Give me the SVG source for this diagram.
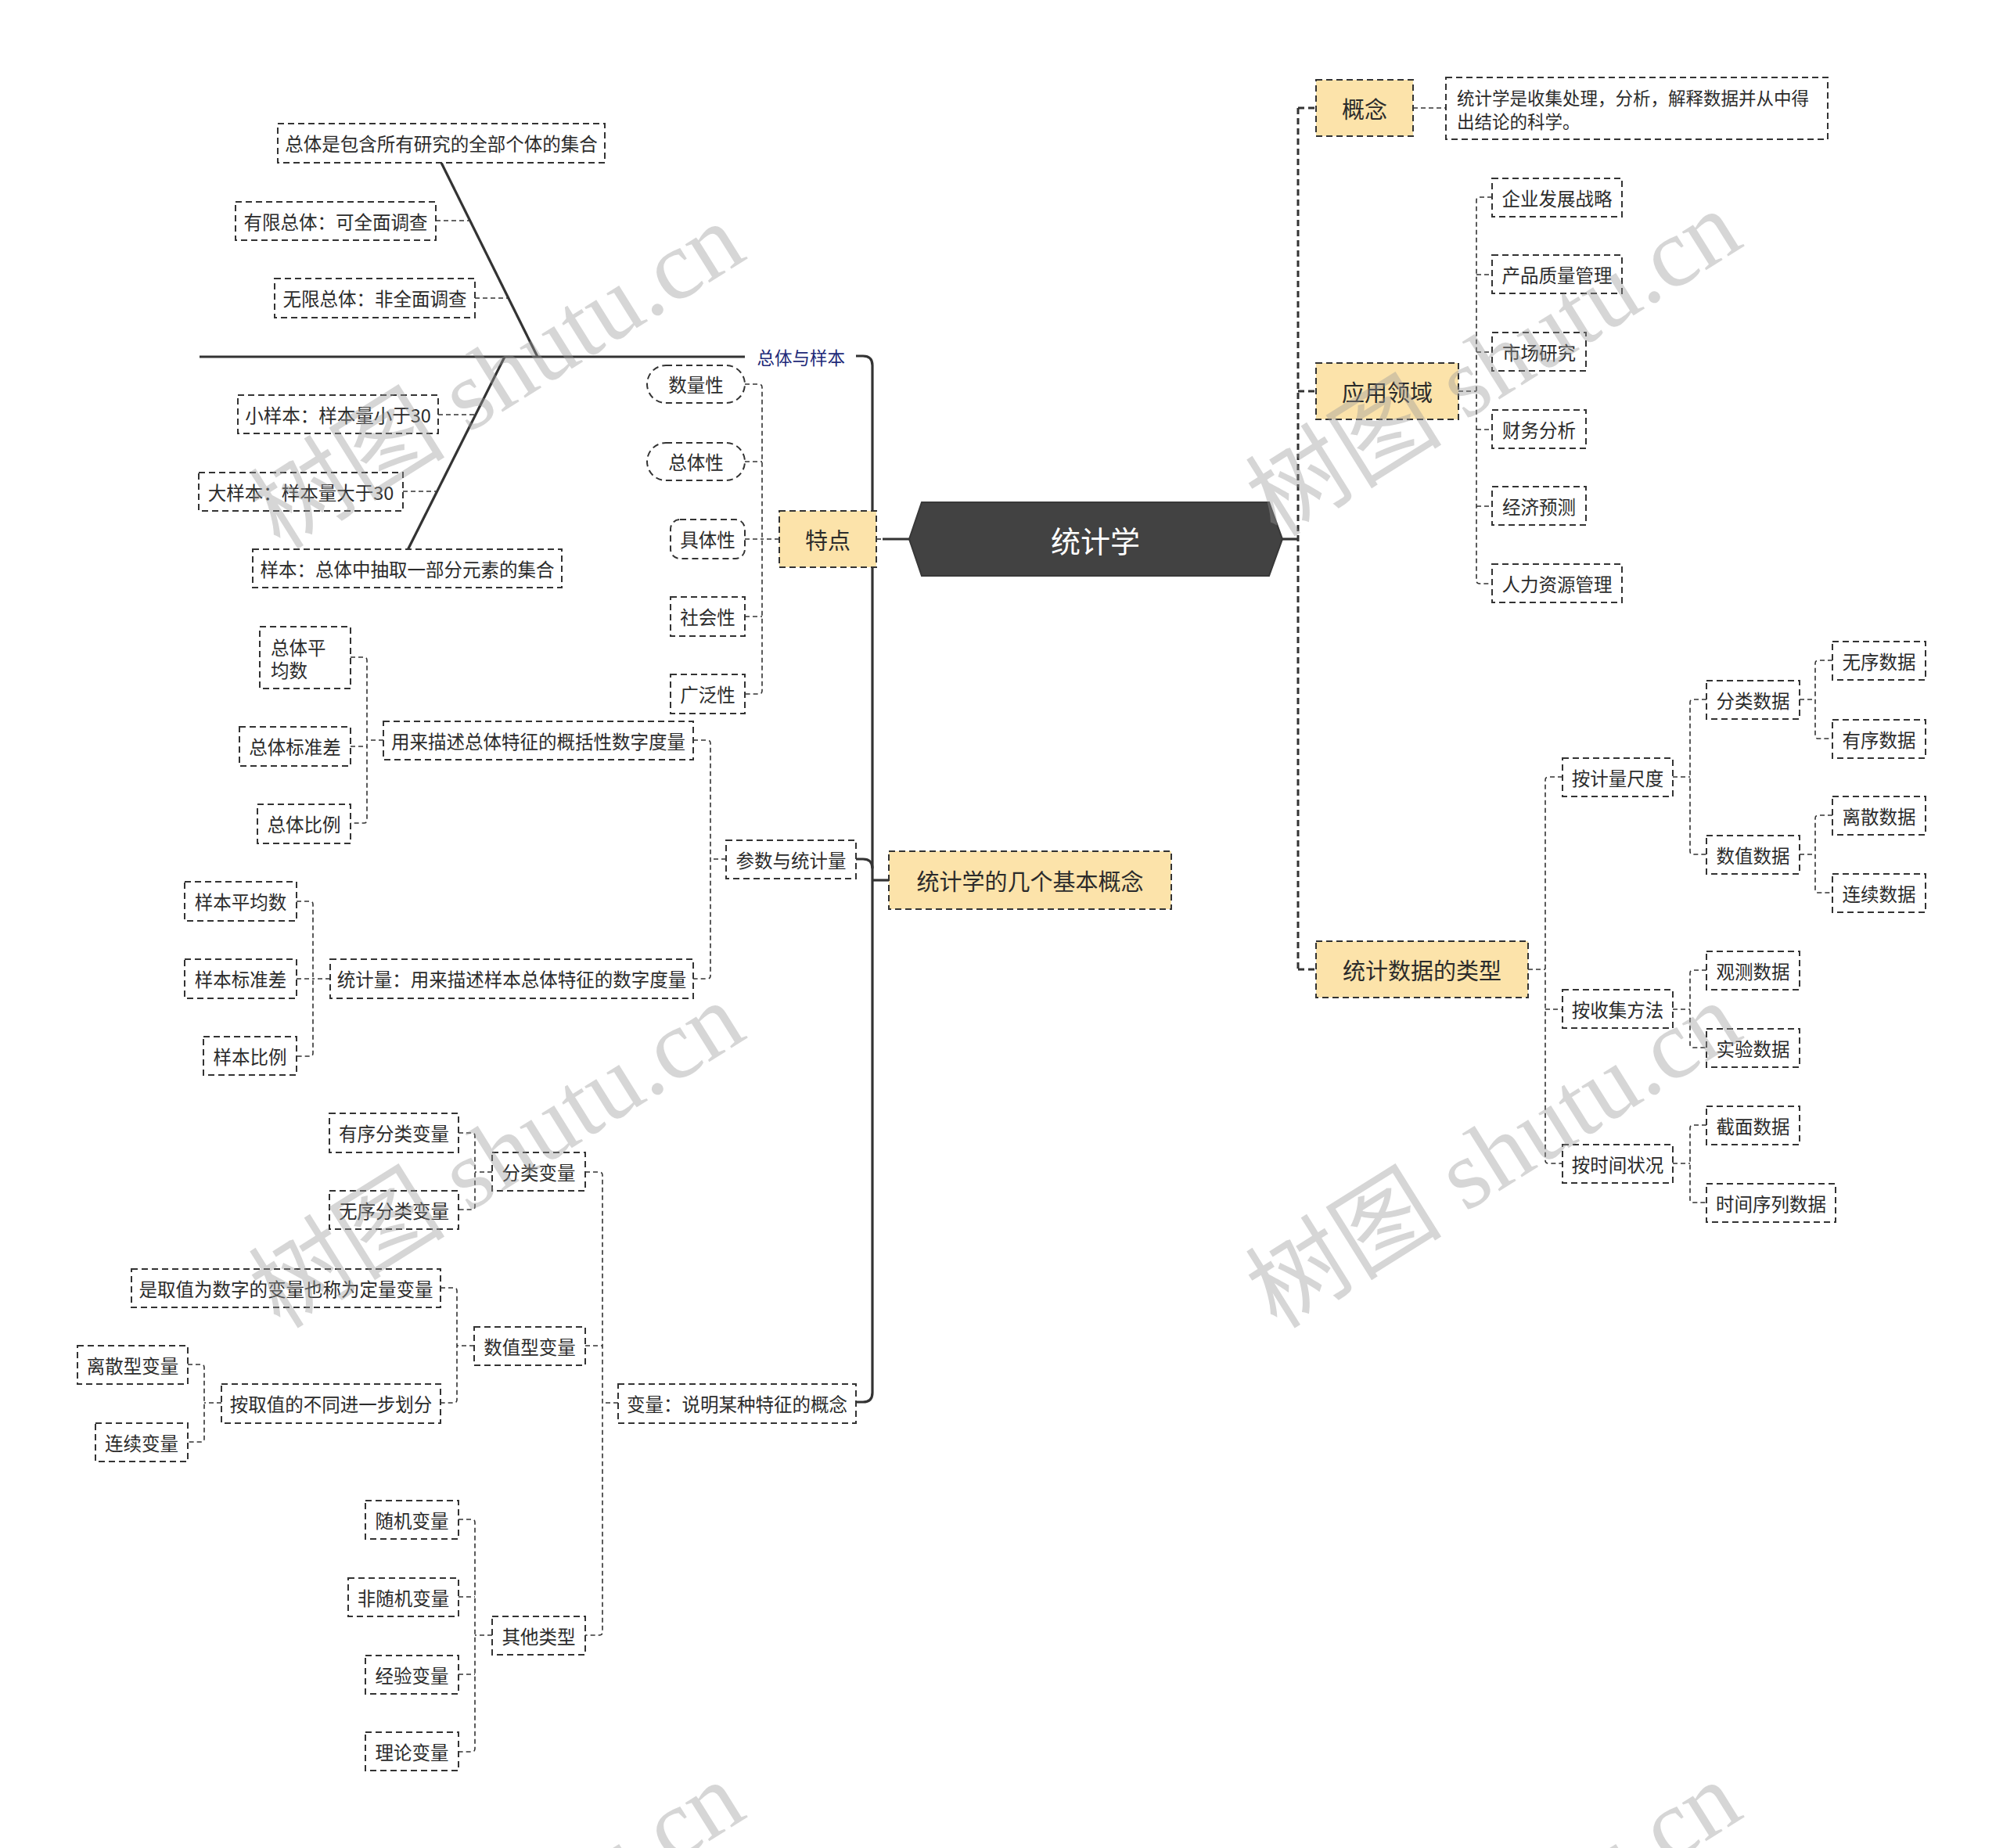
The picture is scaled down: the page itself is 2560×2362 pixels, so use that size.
<svg xmlns="http://www.w3.org/2000/svg" width="2560" height="2362" viewBox="0 0 2560 2362">
<style>
.bg{fill:#fff}
.box{fill:#fff;stroke:#333;stroke-width:2;stroke-dasharray:8 5}
.yl{fill:#FCE3AA;stroke:#333;stroke-width:2;stroke-dasharray:8 5}
.t{font-family:"Noto Sans CJK SC","Liberation Sans",sans-serif;font-size:23.5px;fill:#2b2b2b;text-anchor:middle;dominant-baseline:central}
.ts{text-anchor:start}
.td{font-size:22.5px}
.t1{font-size:29px}
.tr{font-size:38px;fill:#fff}
.tb{font-size:22.5px;fill:#1E2A78;text-anchor:end}
.c{fill:none;stroke:#333;stroke-width:1.6;stroke-dasharray:6 4}
.m{fill:none;stroke:#333;stroke-width:3;stroke-dasharray:8 5}
.s{fill:none;stroke:#333;stroke-width:3.2}
.wm{font-family:"Liberation Serif","Noto Sans CJK SC",serif;font-size:126px;fill:#9a9a9a;opacity:0.4}
</style>
<rect class="bg" x="0" y="0" width="2560" height="2362"/>

<g id="connectors">
  <path class="s" d="M1639,689 H1659"/>
  <path class="m" d="M1659,138 V1239"/>
  <path class="m" d="M1659,138 H1682 M1659,500 H1682 M1659,1239 H1682"/>
  <path class="c" d="M1806,138 H1848"/>
  <path class="c" d="M1864,500 H1887"/>
  <path class="c" d="M1907,252 H1891 Q1887,252 1887,256 V742 Q1887,746 1891,746 H1907 M1887,351 H1907 M1887,450 H1907 M1887,549 H1907 M1887,647 H1907"/>
  <path class="c" d="M1953,1239 H1975"/>
  <path class="c" d="M1997,993 H1979 Q1975,993 1975,997 V1483 Q1975,1487 1979,1487 H1997 M1975,1290 H1997"/>
  <path class="c" d="M2138,993 H2160 M2181,894 H2164 Q2160,894 2160,898 V1088 Q2160,1092 2164,1092 H2181"/>
  <path class="c" d="M2300,894 H2320 M2342,844 H2324 Q2320,844 2320,848 V940 Q2320,944 2324,944 H2342"/>
  <path class="c" d="M2300,1092 H2320 M2342,1042 H2324 Q2320,1042 2320,1046 V1137 Q2320,1141 2324,1141 H2342"/>
  <path class="c" d="M2138,1290 H2160 M2181,1240 H2164 Q2160,1240 2160,1244 V1335 Q2160,1339 2164,1339 H2181"/>
  <path class="c" d="M2138,1487 H2160 M2181,1438 H2164 Q2160,1438 2160,1442 V1533 Q2160,1537 2164,1537 H2181"/>

  <path class="s" d="M1094,455 H1103 Q1115,455 1115,467 V1780 Q1115,1792 1103,1792 H1093"/>
  <path class="s" d="M1094,1098 H1103 Q1115,1098 1115,1110"/>
  <path class="s" d="M1115,1125 H1136"/>
  <path class="s" d="M1128,689 H1162"/>
  <path class="c" d="M1120,689 H1126"/>

  <path class="c" d="M996,689 H974"/>
  <path class="c" d="M952,491 H970 Q974,491 974,495 V883 Q974,887 970,887 H952 M952,590 H974 M952,689 H974 M952,788 H974"/>

  <path class="s" d="M255,456 H952"/>
  <path class="s" d="M564,208 L687,456"/>
  <path class="s" d="M645,456 L521,703"/>
  <path class="c" d="M557,282 H600 M607,381 H650 M560,530 H607 M515,628 H557"/>

  <path class="c" d="M928,1098 H908"/>
  <path class="c" d="M886,946 H904 Q908,946 908,950 V1247 Q908,1251 904,1251 H886"/>
  <path class="c" d="M490,946 H469"/>
  <path class="c" d="M448,840 H465 Q469,840 469,844 V1048 Q469,1052 465,1052 H448 M448,954 H469"/>
  <path class="c" d="M422,1251 H400"/>
  <path class="c" d="M379,1152 H396 Q400,1152 400,1156 V1346 Q400,1350 396,1350 H379 M379,1251 H400"/>

  <path class="c" d="M790,1793 H770"/>
  <path class="c" d="M748,1498 H766 Q770,1498 770,1502 V2086 Q770,2090 766,2090 H748 M748,1720 H770"/>
  <path class="c" d="M629,1498 H607 M586,1448 H603 Q607,1448 607,1452 V1542 Q607,1546 603,1546 H586"/>
  <path class="c" d="M606,1720 H584 M563,1646 H580 Q584,1646 584,1650 V1789 Q584,1793 580,1793 H563"/>
  <path class="c" d="M283,1793 H261 M240,1744 H257 Q261,1744 261,1748 V1839 Q261,1843 257,1843 H240"/>
  <path class="c" d="M629,2090 H607 M586,1942 H603 Q607,1942 607,1946 V2235 Q607,2239 603,2239 H586 M586,2041 H607 M586,2140 H607"/>
</g>

<g id="root">
  <polygon points="1162,689 1178,642 1622,642 1639,689 1622,736 1178,736" fill="#424242" stroke="#383838" stroke-width="2"/>
  <text class="t tr" x="1400" y="689">统计学</text>
</g>

<g id="n-gainian"><rect class="yl" x="1682" y="102" width="124" height="72"/><text class="t t1" x="1744" y="138">概念</text></g>
<g id="n-desc"><rect class="box" x="1848" y="99" width="488" height="79"/>
  <text class="t ts td" x="1862" y="124">统计学是收集处理，分析，解释数据并从中得</text>
  <text class="t ts td" x="1862" y="154">出结论的科学。</text></g>
<g id="n-yingyong"><rect class="yl" x="1682" y="464" width="182" height="72"/><text class="t t1" x="1773" y="500">应用领域</text></g>
<g id="n-qiye"><rect class="box" x="1907" y="228" width="166" height="49"/><text class="t" x="1990" y="252.5">企业发展战略</text></g>
<g id="n-chanpin"><rect class="box" x="1907" y="326" width="166" height="49"/><text class="t" x="1990" y="350.5">产品质量管理</text></g>
<g id="n-shichang"><rect class="box" x="1907" y="425" width="120" height="49"/><text class="t" x="1967" y="449.5">市场研究</text></g>
<g id="n-caiwu"><rect class="box" x="1907" y="524" width="120" height="49"/><text class="t" x="1967" y="548.5">财务分析</text></g>
<g id="n-jingji"><rect class="box" x="1907" y="622" width="120" height="49"/><text class="t" x="1967" y="646.5">经济预测</text></g>
<g id="n-renli"><rect class="box" x="1907" y="721" width="166" height="49"/><text class="t" x="1990" y="745.5">人力资源管理</text></g>

<g id="n-leixing"><rect class="yl" x="1682" y="1203" width="271" height="72"/><text class="t t1" x="1817.5" y="1239">统计数据的类型</text></g>
<g id="n-jiliang"><rect class="box" x="1997" y="969" width="141" height="49"/><text class="t" x="2067.5" y="993.5">按计量尺度</text></g>
<g id="n-shouji"><rect class="box" x="1997" y="1265" width="141" height="49"/><text class="t" x="2067.5" y="1289.5">按收集方法</text></g>
<g id="n-shijian"><rect class="box" x="1997" y="1463" width="141" height="49"/><text class="t" x="2067.5" y="1487.5">按时间状况</text></g>
<g id="n-fenlei"><rect class="box" x="2181" y="870" width="119" height="49"/><text class="t" x="2240.5" y="894.5">分类数据</text></g>
<g id="n-shuzhi"><rect class="box" x="2181" y="1068" width="119" height="49"/><text class="t" x="2240.5" y="1092.5">数值数据</text></g>
<g id="n-wuxu"><rect class="box" x="2342" y="820" width="119" height="49"/><text class="t" x="2401.5" y="844.5">无序数据</text></g>
<g id="n-youxu"><rect class="box" x="2342" y="920" width="119" height="49"/><text class="t" x="2401.5" y="944.5">有序数据</text></g>
<g id="n-lisan"><rect class="box" x="2342" y="1018" width="119" height="49"/><text class="t" x="2401.5" y="1042.5">离散数据</text></g>
<g id="n-lianxu"><rect class="box" x="2342" y="1117" width="119" height="49"/><text class="t" x="2401.5" y="1141.5">连续数据</text></g>
<g id="n-guance"><rect class="box" x="2181" y="1216" width="119" height="49"/><text class="t" x="2240.5" y="1240.5">观测数据</text></g>
<g id="n-shiyan"><rect class="box" x="2181" y="1315" width="119" height="49"/><text class="t" x="2240.5" y="1339.5">实验数据</text></g>
<g id="n-jiemian"><rect class="box" x="2181" y="1414" width="119" height="49"/><text class="t" x="2240.5" y="1438.5">截面数据</text></g>
<g id="n-xulie"><rect class="box" x="2181" y="1513" width="165" height="49"/><text class="t" x="2263.5" y="1537.5">时间序列数据</text></g>

<g id="n-tedian"><rect class="yl" x="996" y="653" width="124" height="72"/><text class="t t1" x="1058" y="689">特点</text></g>
<g id="n-shuliang"><rect class="box" x="827" y="467" width="125" height="48" rx="24"/><text class="t" x="889.5" y="491">数量性</text></g>
<g id="n-zongtixing"><rect class="box" x="827" y="566" width="125" height="48" rx="24"/><text class="t" x="889.5" y="590">总体性</text></g>
<g id="n-juti"><rect class="box" x="857" y="664" width="95" height="50" rx="12"/><text class="t" x="904.5" y="689">具体性</text></g>
<g id="n-shehui"><rect class="box" x="857" y="763" width="95" height="50"/><text class="t" x="904.5" y="788">社会性</text></g>
<g id="n-guangfan"><rect class="box" x="857" y="862" width="95" height="50"/><text class="t" x="904.5" y="887">广泛性</text></g>

<g id="n-zongtiyuyangben"><text class="t tb" x="1080" y="456">总体与样本</text></g>
<g id="n-zongti"><rect class="box" x="355" y="158" width="418" height="50"/><text class="t" x="564" y="183">总体是包含所有研究的全部个体的集合</text></g>
<g id="n-youxian"><rect class="box" x="301" y="258" width="256" height="49"/><text class="t" x="429" y="282.5">有限总体：可全面调查</text></g>
<g id="n-wuxian"><rect class="box" x="351" y="356" width="256" height="50"/><text class="t" x="479" y="381">无限总体：非全面调查</text></g>
<g id="n-xiaoyangben"><rect class="box" x="304" y="505" width="256" height="49"/><text class="t" x="432" y="529.5">小样本：样本量小于30</text></g>
<g id="n-dayangben"><rect class="box" x="254" y="604" width="261" height="49"/><text class="t" x="384.5" y="628.5">大样本：样本量大于30</text></g>
<g id="n-yangben"><rect class="box" x="323" y="702" width="395" height="49"/><text class="t" x="520.5" y="726.5">样本：总体中抽取一部分元素的集合</text></g>

<g id="n-jiben"><rect class="yl" x="1136" y="1088" width="361" height="74"/><text class="t t1" x="1316.5" y="1125">统计学的几个基本概念</text></g>
<g id="n-canshu"><rect class="box" x="928" y="1074" width="166" height="49"/><text class="t" x="1011" y="1098.5">参数与统计量</text></g>
<g id="n-canshudef"><rect class="box" x="490" y="922" width="396" height="49"/><text class="t" x="688" y="946.5">用来描述总体特征的概括性数字度量</text></g>
<g id="n-tongjiliang"><rect class="box" x="422" y="1226" width="464" height="50"/><text class="t" x="654" y="1251">统计量：用来描述样本总体特征的数字度量</text></g>
<g id="n-ztpjs"><rect class="box" x="332" y="801" width="116" height="79"/>
  <text class="t ts" x="346" y="827">总体平</text><text class="t ts" x="346" y="856">均数</text></g>
<g id="n-ztbzc"><rect class="box" x="306" y="929" width="142" height="50"/><text class="t" x="377" y="954">总体标准差</text></g>
<g id="n-ztbl"><rect class="box" x="329" y="1028" width="119" height="50"/><text class="t" x="388.5" y="1053">总体比例</text></g>
<g id="n-ybpjs"><rect class="box" x="236" y="1127" width="143" height="50"/><text class="t" x="307.5" y="1152">样本平均数</text></g>
<g id="n-ybbzc"><rect class="box" x="236" y="1226" width="143" height="50"/><text class="t" x="307.5" y="1251">样本标准差</text></g>
<g id="n-ybbl"><rect class="box" x="260" y="1325" width="119" height="49"/><text class="t" x="319.5" y="1349.5">样本比例</text></g>

<g id="n-bianliang"><rect class="box" x="790" y="1769" width="304" height="50"/><text class="t" x="942" y="1794">变量：说明某种特征的概念</text></g>
<g id="n-flbl"><rect class="box" x="629" y="1473" width="119" height="49"/><text class="t" x="688.5" y="1497.5">分类变量</text></g>
<g id="n-szxbl"><rect class="box" x="606" y="1696" width="142" height="49"/><text class="t" x="677" y="1720.5">数值型变量</text></g>
<g id="n-qtlx"><rect class="box" x="629" y="2066" width="119" height="49"/><text class="t" x="688.5" y="2090.5">其他类型</text></g>
<g id="n-yxflbl"><rect class="box" x="421" y="1423" width="165" height="50"/><text class="t" x="503.5" y="1448">有序分类变量</text></g>
<g id="n-wxflbl"><rect class="box" x="421" y="1522" width="165" height="49"/><text class="t" x="503.5" y="1546.5">无序分类变量</text></g>
<g id="n-dingliang"><rect class="box" x="168" y="1622" width="395" height="49"/><text class="t" x="365.5" y="1646.5">是取值为数字的变量也称为定量变量</text></g>
<g id="n-huafen"><rect class="box" x="283" y="1769" width="280" height="50"/><text class="t" x="423" y="1794">按取值的不同进一步划分</text></g>
<g id="n-lsxbl"><rect class="box" x="99" y="1720" width="141" height="49"/><text class="t" x="169.5" y="1744.5">离散型变量</text></g>
<g id="n-lxbl"><rect class="box" x="122" y="1819" width="118" height="49"/><text class="t" x="181" y="1843.5">连续变量</text></g>
<g id="n-sjbl"><rect class="box" x="467" y="1918" width="119" height="49"/><text class="t" x="526.5" y="1942.5">随机变量</text></g>
<g id="n-fsjbl"><rect class="box" x="445" y="2017" width="141" height="49"/><text class="t" x="515.5" y="2041.5">非随机变量</text></g>
<g id="n-jybl"><rect class="box" x="467" y="2116" width="119" height="49"/><text class="t" x="526.5" y="2140.5">经验变量</text></g>
<g id="n-llbl"><rect class="box" x="467" y="2214" width="119" height="49"/><text class="t" x="526.5" y="2238.5">理论变量</text></g>

<g id="watermarks">
  <text class="wm" x="358" y="704" transform="rotate(-32 358 704)">树图 shutu.cn</text>
  <text class="wm" x="1632" y="688" transform="rotate(-32 1632 688)">树图 shutu.cn</text>
  <text class="wm" x="358" y="1700" transform="rotate(-32 358 1700)">树图 shutu.cn</text>
  <text class="wm" x="1632" y="1700" transform="rotate(-32 1632 1700)">树图 shutu.cn</text>
  <text class="wm" x="358" y="2696" transform="rotate(-32 358 2696)">树图 shutu.cn</text>
  <text class="wm" x="1632" y="2696" transform="rotate(-32 1632 2696)">树图 shutu.cn</text>
</g>
</svg>
